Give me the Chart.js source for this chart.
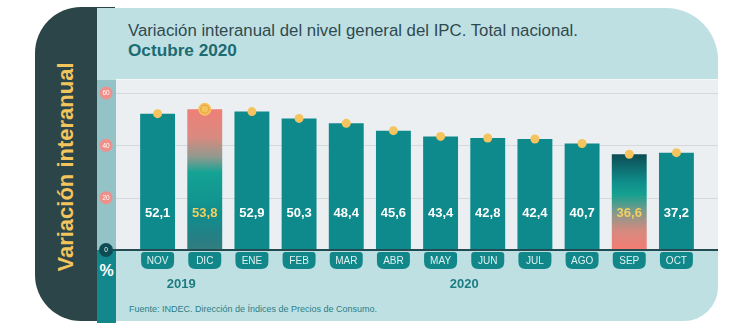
<!DOCTYPE html>
<html>
<head>
<meta charset="utf-8">
<script src="https://cdn.jsdelivr.net/npm/chart.js@4"></script>
<style>
  html, body { margin:0; padding:0; background:#ffffff; }
  #wrap { position:relative; width:750px; height:333px; overflow:hidden; font-family:'Liberation Sans', Arial, sans-serif; }
  .abs { position:absolute; }
  #dark { left:35px; top:7px; width:80px; height:314px; background:#2c4549; border-radius:46px 0 0 46px; }
  #card { left:97px; top:8px; width:621px; height:313px; background:#bfe0e3; border-radius:0 52px 34px 0; }
  #plotbg { left:116px; top:79px; width:602px; height:171px; background:#eceff1; border-top:1px solid #f5f7f8; }
  #stripTop { left:97px; top:80px; width:19px; height:170px; background:#93c3c7; }
  #stripBot { left:97px; top:250px; width:19px; height:73px; background:#13888c; }
  #pct { left:97px; top:262px; width:19px; text-align:center; color:#ffffff; font-weight:bold; font-size:16px; line-height:18px; }
  #t1 { left:128px; top:23px; font-size:16.8px; line-height:16px; color:#2f4a4f; white-space:nowrap; }
  #t2 { left:128px; top:42px; font-size:17.2px; line-height:16px; color:#1c6b71; font-weight:bold; white-space:nowrap; }
  #vlab { left:66px; top:167px; transform:translate(-50%,-50%) rotate(-90deg); white-space:nowrap; font-weight:bold; font-size:22px; color:#f3c55c; }
  #foot { left:129px; top:304px; font-size:9px; line-height:11px; color:#2b7f86; white-space:nowrap; }
  canvas { position:absolute; left:0; top:0; }
</style>
</head>
<body>
<div id="wrap">
  <div class="abs" id="dark"></div>
  <div class="abs" id="card"></div>
  <div class="abs" id="plotbg"></div>
  <div class="abs" id="stripTop"></div>
  <div class="abs" id="stripBot"></div>
  <div class="abs" id="pct">%</div>
  <div class="abs" id="t1">Variación interanual del nivel general del IPC. Total nacional.</div>
  <div class="abs" id="t2">Octubre 2020</div>
  <div class="abs" id="vlab">Variación interanual</div>
  <div class="abs" id="foot">Fuente: INDEC. Dirección de Índices de Precios de Consumo.</div>
  <canvas id="c" width="750" height="333"></canvas>
</div>
<script>
// ---- data ----
const categories = ['NOV','DIC','ENE','FEB','MAR','ABR','MAY','JUN','JUL','AGO','SEP','OCT'];
const values = [52.1, 53.8, 52.9, 50.3, 48.4, 45.6, 43.4, 42.8, 42.4, 40.7, 36.6, 37.2];
const highlight = ['', 'high', '', '', '', '', '', '', '', '', 'low', ''];
const yTicks = [0, 20, 40, 60];
const yearLabels = ['2019', '2020'];
const yearFirst = [0, 2];
const yearLast = [1, 11];

// ---- styles ----
const TEAL = '#0f8a8c';
const DOT = '#f5c45e';

function fmt(v) { return v.toFixed(1).replace('.', ','); }

function barColor(ctx) {
  const chart = ctx.chart;
  const i = ctx.dataIndex;
  const kind = highlight[i];
  if (!kind || !chart.chartArea) return TEAL;
  const y = chart.scales.y;
  const top = y.getPixelForValue(values[i]);
  const bot = y.getPixelForValue(0);
  const g = chart.ctx.createLinearGradient(0, top, 0, bot);
  if (kind === 'high') {
    g.addColorStop(0, '#ef7f77');
    g.addColorStop(0.20, '#d98a80');
    g.addColorStop(0.34, '#8f9a8f');
    g.addColorStop(0.45, '#14a394');
    g.addColorStop(0.75, '#118d8d');
    g.addColorStop(0.92, '#267f83');
    g.addColorStop(1, '#337d80');
  } else {
    g.addColorStop(0, '#0d4c54');
    g.addColorStop(0.30, '#0f8f8c');
    g.addColorStop(0.42, '#15a090');
    g.addColorStop(0.60, '#7e9a8b');
    g.addColorStop(0.80, '#d68a80');
    g.addColorStop(1, '#f47c73');
  }
  return g;
}

function roundRect(ctx, x, y, w, h, rt, rb) {
  ctx.beginPath();
  ctx.moveTo(x + rt, y);
  ctx.lineTo(x + w - rt, y);
  ctx.quadraticCurveTo(x + w, y, x + w, y + rt);
  ctx.lineTo(x + w, y + h - rb);
  ctx.quadraticCurveTo(x + w, y + h, x + w - rb, y + h);
  ctx.lineTo(x + rb, y + h);
  ctx.quadraticCurveTo(x, y + h, x, y + h - rb);
  ctx.lineTo(x, y + rt);
  ctx.quadraticCurveTo(x, y, x + rt, y);
  ctx.closePath();
}

const decor = {
  id: 'decor',
  beforeDatasetsDraw(chart) {
    const ctx = chart.ctx, y = chart.scales.y;
    ctx.save();
    ctx.strokeStyle = '#d4d9dc';
    ctx.lineWidth = 1;
    yTicks.forEach(t => {
      if (t === 0) return;
      const py = Math.round(y.getPixelForValue(t)) + 0.5;
      ctx.beginPath(); ctx.moveTo(116, py); ctx.lineTo(718, py); ctx.stroke();
    });
    ctx.restore();
  },
  afterDatasetsDraw(chart) {
    const ctx = chart.ctx, x = chart.scales.x, y = chart.scales.y;
    const y0 = y.getPixelForValue(0);
    ctx.save();
    // zero line
    ctx.strokeStyle = '#224c52';
    ctx.lineWidth = 2;
    ctx.beginPath(); ctx.moveTo(106, y0); ctx.lineTo(718, y0); ctx.stroke();
    // y tick badges
    ctx.textAlign = 'center'; ctx.textBaseline = 'middle';
    yTicks.forEach(t => {
      const py = y.getPixelForValue(t);
      ctx.beginPath();
      ctx.arc(106, py, t === 0 ? 7 : 6.5, 0, Math.PI * 2);
      ctx.fillStyle = t === 0 ? '#0e4c55' : '#f0908a';
      ctx.fill();
      ctx.fillStyle = '#ffffff';
      ctx.font = '6.5px "Liberation Sans", Arial, sans-serif';
      ctx.fillText(String(t), 106, py + 0.5);
    });
    // x badges + value labels
    categories.forEach((c, i) => {
      const px = x.getPixelForValue(i);
      const w = 33;
      ctx.fillStyle = '#12878a';
      roundRect(ctx, px - w / 2, y0 + 2, w, 17, 3, 7);
      ctx.fill();
      ctx.fillStyle = '#dff1f1';
      ctx.font = '10px "Liberation Sans", Arial, sans-serif';
      ctx.fillText(c, px, y0 + 11);
      ctx.fillStyle = highlight[i] ? '#f2cf60' : '#ffffff';
      ctx.font = 'bold 13px "Liberation Sans", Arial, sans-serif';
      ctx.fillText(fmt(values[i]), px, y0 - 37);
    });
    // year labels
    ctx.fillStyle = '#1b7c82';
    ctx.font = 'bold 13px "Liberation Sans", Arial, sans-serif';
    yearLabels.forEach((lab, k) => {
      const px = (x.getPixelForValue(yearFirst[k]) + x.getPixelForValue(yearLast[k])) / 2;
      ctx.fillText(lab, px, y0 + 34);
    });
    ctx.restore();
  }
};

const dotRadius = values.map((v, i) => highlight[i] === 'high' ? 6.5 : 4.5);
const ringData = values.map((v, i) => highlight[i] === 'high' ? v : null);

new Chart(document.getElementById('c'), {
  type: 'bar',
  data: {
    labels: categories,
    datasets: [
      {
        type: 'line',
        data: ringData,
        showLine: false,
        pointRadius: 4,
        pointBackgroundColor: 'rgba(0,0,0,0)',
        pointBorderColor: '#e9a444',
        pointBorderWidth: 1.2,
        order: 0
      },
      {
        type: 'line',
        data: values,
        showLine: false,
        pointRadius: dotRadius,
        pointBackgroundColor: DOT,
        pointBorderWidth: 0,
        order: 1
      },
      {
        type: 'bar',
        data: values,
        backgroundColor: barColor,
        borderWidth: 0,
        barPercentage: 0.74,
        categoryPercentage: 1,
        order: 2
      }
    ]
  },
  options: {
    responsive: false,
    animation: false,
    devicePixelRatio: 1,
    layout: { padding: { left: 134, right: 50, top: 93, bottom: 83 } },
    scales: {
      x: { display: false, offset: true },
      y: { display: false, min: 0, max: 60 }
    },
    plugins: { legend: { display: false }, tooltip: { enabled: false } }
  },
  plugins: [decor]
});
</script>
</body>
</html>
